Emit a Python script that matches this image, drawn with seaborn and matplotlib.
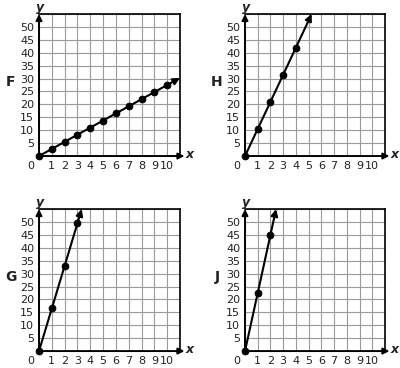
import numpy as np
import pandas as pd
import seaborn as sns
import matplotlib.pyplot as plt

# Panel letters and the points
panels = ['F', 'H', 'G', 'J']
f_x = [0, 1, 2, 3, 4, 5, 6, 7, 8, 9, 10]
f_y = [0, 2.75, 5.5, 8.25, 11, 13.75, 16.5, 19.25, 22, 24.75, 27.5]
h_x = [0, 1, 2, 3, 4]
h_y = [0, 10.5, 21, 31.5, 42]
g_x = [0, 1, 2, 3]
g_y = [0, 16.5, 33, 49.5]
j_x = [0, 1, 2]
j_y = [0, 22.5, 45]

# where each arrow head ends
tips = {'F': (11, 30.25), 'H': (5.24, 55), 'G': (3.33, 55), 'J': (2.44, 55)}

x_ticks = [1, 2, 3, 4, 5, 6, 7, 8, 9, 10]
y_ticks = [5, 10, 15, 20, 25, 30, 35, 40, 45, 50]

data = {'F': (f_x, f_y), 'H': (h_x, h_y), 'G': (g_x, g_y), 'J': (j_x, j_y)}

sns.set_style('white')
plt.rcParams['font.family'] = ['DejaVu Sans']

fig = plt.figure(figsize=(4, 3.68), dpi=100)
boxes = {
    'F': [0.0975, 0.576, 0.3525, 0.386],
    'H': [0.6125, 0.576, 0.35, 0.386],
    'G': [0.0975, 0.046, 0.3525, 0.386],
    'J': [0.6125, 0.046, 0.35, 0.386],
}

txt = '#222222'
for name in panels:
    ax = fig.add_axes(boxes[name])
    xs, ys = data[name]
    df = pd.DataFrame({'x': xs, 'y': ys})

    ax.set_xlim(0, 11)
    ax.set_ylim(0, 55)
    ax.set_xticks(np.arange(0, 12, 1))
    ax.set_yticks(np.arange(0, 60, 5))
    ax.grid(True, color='#9a9a9a', linewidth=0.8)
    ax.set_axisbelow(True)

    # tick labels: x 1..10 under grid, y 5..50 on left
    ax.set_xticklabels([''] + [str(t) for t in x_ticks] + [''])
    ax.set_yticklabels([''] + [str(t) for t in y_ticks] + [''])
    ax.tick_params(length=0, labelsize=8, colors=txt, pad=3.5)
    ax.annotate('0', xy=(0, 0), xytext=(-5.8, -3.5), textcoords='offset points',
                fontsize=8, color=txt, ha='center', va='top', annotation_clip=False)

    for side in ['top', 'right']:
        ax.spines[side].set_color('black')
        ax.spines[side].set_linewidth(1.2)
    for side in ['left', 'bottom']:
        ax.spines[side].set_visible(False)

    # axes with arrows
    ax.annotate('', xy=(11.35, 0), xytext=(0, 0),
                arrowprops=dict(arrowstyle='-|>', color='black', lw=1.4,
                                mutation_scale=9, shrinkA=0, shrinkB=0),
                annotation_clip=False)
    ax.annotate('', xy=(0, 55), xytext=(0, 0),
                arrowprops=dict(arrowstyle='-|>', color='black', lw=1.4,
                                mutation_scale=9, shrinkA=0, shrinkB=0),
                annotation_clip=False)
    ax.text(11.75, 0.5, 'x', fontsize=9, fontweight='bold', fontstyle='italic',
            color=txt, ha='center', va='center')
    ax.text(0.1, 57.5, 'y', fontsize=9, fontweight='bold', fontstyle='italic',
            color=txt, ha='center', va='center')

    # the line and its points
    sns.lineplot(data=df, x='x', y='y', ax=ax, color='black', linewidth=1.5,
                 marker='o', markersize=4.8, markeredgecolor='black', clip_on=False)
    ax.annotate('', xy=tips[name], xytext=(xs[-1], ys[-1]),
                arrowprops=dict(arrowstyle='-|>', color='black', lw=1.5,
                                mutation_scale=10, shrinkA=0, shrinkB=0),
                annotation_clip=False)
    ax.set_xlabel('')
    ax.set_ylabel('')

    ax.text(-0.2, 0.52, name, transform=ax.transAxes, fontsize=10,
            fontweight='bold', color=txt, ha='center', va='center')

fig.savefig('out.png', dpi=100)
